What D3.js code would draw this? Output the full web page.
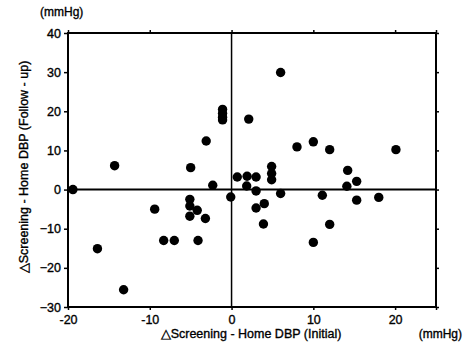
<!DOCTYPE html>
<html>
<head>
<meta charset="utf-8">
<script src="https://cdn.jsdelivr.net/npm/d3@7"></script>
<style>
  body { margin: 0; background: #fff; }
  text { font-family: "Liberation Sans", Arial, sans-serif; fill: #000; stroke: #000; stroke-width: 0.35px; }
</style>
</head>
<body>
<svg id="vis-svg"></svg>
<script>
// change in screening - home DBP, initial (x) vs follow-up (y)
const initialDiff = [-19.4, -14.3, -16.4, -13.2, -9.4, -8.3, -7.0, -5.0, -5.1, -5.1, -5.1, -4.2, -4.1, -3.2, -3.1, -2.3,
  -1.1, -1.1, -1.1, -1.1, -0.1, 0.7, 2.1, 1.9, 1.85, 3.0, 3.0, 3.0, 4.0, 3.9, 4.9, 4.9, 4.9, 6.0, 6.0,
  8.0, 10.0, 10.0, 11.1, 12.0, 12.0, 14.2, 14.1, 15.3, 15.3, 18.0, 20.1];
const followDiff = [0, 6.1, -15.1, -25.6, -5.0, -13, -13, 5.6, -2.5, -4.2, -6.8, -5.3, -13, -7.4, 12.4, 1.1,
  20.5, 19.5, 18.5, 17.8, -1.9, 3.2, 18, 3.4, 0.9, 3.2, -0.35, -4.7, -3.6, -8.8, 5.9, 4.1, 2.5, 29.9, -1.0,
  10.9, 12.2, -13.5, -1.45, 10.2, -8.9, 4.9, 0.85, 2.1, -2.7, -2.0, 10.2];

const xTicks = [-20, -10, 0, 10, 20];
const yTicks = [-30, -20, -10, 0, 10, 20, 30, 40];
const xLabelText = "\u25B3Screening - Home DBP (Initial)";
const yLabelText = "\u25B3Screening - Home DBP (Follow - up)";
const unitText = "(mmHg)";

const width = 470, height = 347;
const margin = {top: 33, right: 34, bottom: 40, left: 68};
const innerW = width - margin.left - margin.right,
      innerH = height - margin.top - margin.bottom;

const svg = d3.select("#vis-svg")
    .attr("width", width)
    .attr("height", height);

const g = svg.append("g")
    .attr("transform", "translate(" + margin.left + "," + margin.top + ")");

const x = d3.scaleLinear().domain([-20, 25]).range([0, innerW]);
const y = d3.scaleLinear().domain([-30, 40]).range([innerH, 0]);

// axes
const styleAxis = sel => {
    sel.select(".domain").remove();
    sel.selectAll(".tick line").attr("stroke", "#000").attr("stroke-width", 1.5);
};

g.append("g")
    .attr("transform", "translate(0," + innerH + ")")
    .call(d3.axisBottom(x).tickValues(xTicks.concat([25])).tickSize(3).tickFormat(d => d === 25 ? "" : d))
    .call(styleAxis)
    .selectAll("text")
    .attr("dy", "0.9em")
    .style("font-size", "12.5px");

g.append("g")
    .call(d3.axisLeft(y).tickValues(yTicks).tickSize(4).tickPadding(3))
    .call(styleAxis)
    .selectAll("text")
    .style("font-size", "12.5px");

g.append("g")
    .call(d3.axisTop(x).tickValues(xTicks.concat([25])).tickSize(3).tickFormat(""))
    .call(styleAxis);

g.append("g")
    .attr("transform", "translate(" + innerW + ",0)")
    .call(d3.axisRight(y).tickValues(yTicks).tickSize(3).tickFormat(""))
    .call(styleAxis);

// frame
g.append("rect")
    .attr("width", innerW)
    .attr("height", innerH)
    .attr("fill", "none")
    .attr("stroke", "#000")
    .attr("stroke-width", 2);

// zero lines
g.append("line")
    .attr("x1", 0).attr("x2", innerW)
    .attr("y1", y(0)).attr("y2", y(0))
    .attr("stroke", "#000").attr("stroke-width", 2);
g.append("line")
    .attr("x1", x(0)).attr("x2", x(0))
    .attr("y1", 0).attr("y2", innerH)
    .attr("stroke", "#000").attr("stroke-width", 1.5);

// points
g.selectAll(".dot")
    .data(d3.range(initialDiff.length))
  .enter().append("circle")
    .attr("class", "dot")
    .attr("cx", i => x(initialDiff[i]))
    .attr("cy", i => y(followDiff[i]))
    .attr("r", 4.7)
    .attr("fill", "#000");

// labels
svg.append("text")
    .attr("x", 40).attr("y", 16)
    .style("font-size", "12px")
    .text(unitText);

svg.append("text")
    .attr("x", 251).attr("y", 338)
    .attr("text-anchor", "middle")
    .style("font-size", "12.5px")
    .text(xLabelText);

svg.append("text")
    .attr("x", 462).attr("y", 338)
    .attr("text-anchor", "end")
    .style("font-size", "12px")
    .text(unitText);

svg.append("text")
    .attr("transform", "translate(28," + 167 + ") rotate(-90)")
    .attr("text-anchor", "middle")
    .style("font-size", "12.5px")
    .text(yLabelText);
</script>
</body>
</html>
